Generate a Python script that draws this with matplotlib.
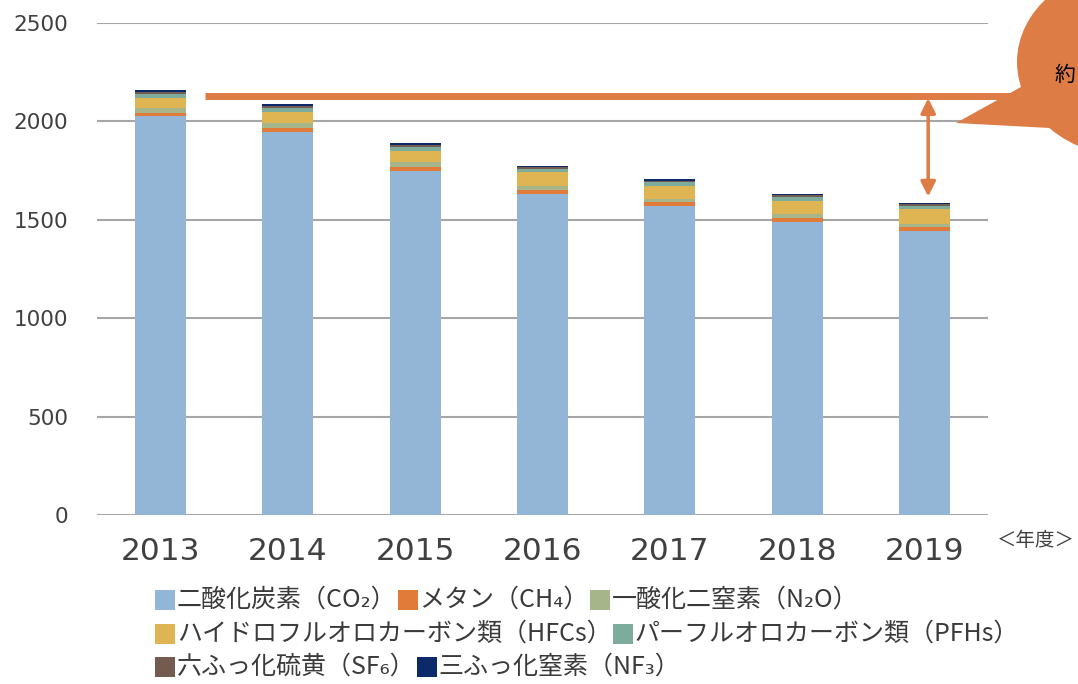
import matplotlib
matplotlib.use("Agg")
import matplotlib.pyplot as plt
import numpy as np
from matplotlib.patches import Ellipse, Polygon, Rectangle

plt.rcParams['font.family'] = ['Noto Sans CJK JP', 'DejaVu Sans']

years = ['2013', '2014', '2015', '2016', '2017', '2018', '2019']
co2 = [2025, 1946, 1750, 1631, 1570, 1490, 1443]
ch4 = [18, 20, 20, 20, 18, 18, 18]
n2o = [25, 25, 22, 22, 20, 20, 20]
hfc = [50, 55, 60, 68, 65, 70, 72]
pfc = [20, 20, 18, 18, 17, 17, 17]
sf6 = [12, 12, 11, 10, 9, 9, 8]
nf3 = [8, 8, 7, 6, 6, 5, 5]

names = ['二酸化炭素（CO₂）', 'メタン（CH₄）', '一酸化二窒素（N₂O）',
         'ハイドロフルオロカーボン類（HFCs）', 'パーフルオロカーボン類（PFHs）',
         '六ふっ化硫黄（SF₆）', '三ふっ化窒素（NF₃）']
colors = ['#93b6d6', '#e07b39', '#a7b58a', '#dfb452', '#7eac9c', '#735c4f', '#0c2a6a']
series = [co2, ch4, n2o, hfc, pfc, sf6, nf3]

W, H = 1078, 684
fig = plt.figure(figsize=(W / 100, H / 100), dpi=100)
ax = fig.add_axes([97 / W, 1 - 515 / H, (988 - 97) / W, (515 - 23) / H])

x = np.arange(len(years))
bottom = np.zeros(len(years))
for vals, c in zip(series, colors):
    ax.bar(x, vals, 0.4, bottom=bottom, color=c, zorder=3)
    bottom += np.array(vals)
totals = bottom

ax.set_xlim(-0.5, len(years) - 0.5)
ax.set_ylim(0, 2500)
ax.set_yticks([0, 500, 1000, 1500, 2000, 2500])
ax.yaxis.grid(True, color='#a6a6a6', linewidth=1.5, zorder=0)
for s in ax.spines.values():
    s.set_visible(False)
ax.tick_params(axis='y', length=0, pad=21)
ax.tick_params(axis='x', length=0, pad=16)
ax.set_xticks(x)
ax.set_xticklabels(years)
for lbl in ax.get_yticklabels():
    lbl.set_fontfamily('DejaVu Sans')
    lbl.set_fontsize(15.5)
    lbl.set_color('#404040')
for lbl in ax.get_xticklabels():
    lbl.set_fontfamily('DejaVu Sans')
    lbl.set_fontsize(22.5)
    lbl.set_color('#404040')

# reduction marker: level line from 2013 and double arrow down to 2019
level = totals[0] - 30
ax.plot([0.35, 7.6], [level, level], color='#dd7c44', linewidth=5,
        solid_capstyle='butt', clip_on=False, zorder=5)
ax.annotate('', xy=(6.03, totals[-1] + 35), xytext=(6.03, level - 10),
            arrowprops=dict(arrowstyle='<|-|>', color='#dd7c44', lw=2.5,
                            mutation_scale=22, shrinkA=0, shrinkB=0), zorder=5)

# overlay in pixel coordinates for the callout bubble and legend
ov = fig.add_axes([0, 0, 1, 1], zorder=10)
ov.set_xlim(0, W)
ov.set_ylim(H, 0)
ov.axis('off')
ov.add_patch(Ellipse((1132, 62), 230, 190, color='#dd7c44', lw=0))
ov.add_patch(Polygon([(956, 123), (1030, 82), (1050, 128)], closed=True,
                     color='#dd7c44', lw=0))
ov.text(1055, 75, '約', fontsize=15, color='black', va='center', ha='left')

ov.text(1075, 540, '＜年度＞', fontsize=14, color='#404040', ha='right', va='center')

# legend rows laid out like a flowing text block
rows = [[0, 1, 2], [3, 4], [5, 6]]
row_y = [600, 634, 667]
fig.canvas.draw()
renderer = fig.canvas.get_renderer()
for r, yy in zip(rows, row_y):
    xx = 155
    for i in r:
        ov.add_patch(Rectangle((xx, yy - 10), 20, 20, color=colors[i], lw=0))
        xx += 22
        t = ov.text(xx, yy, names[i], fontsize=18, color='#3a3a3a',
                    va='center', ha='left')
        bb = t.get_window_extent(renderer)
        xx += bb.width + 1

fig.savefig('out.png', dpi=100)
